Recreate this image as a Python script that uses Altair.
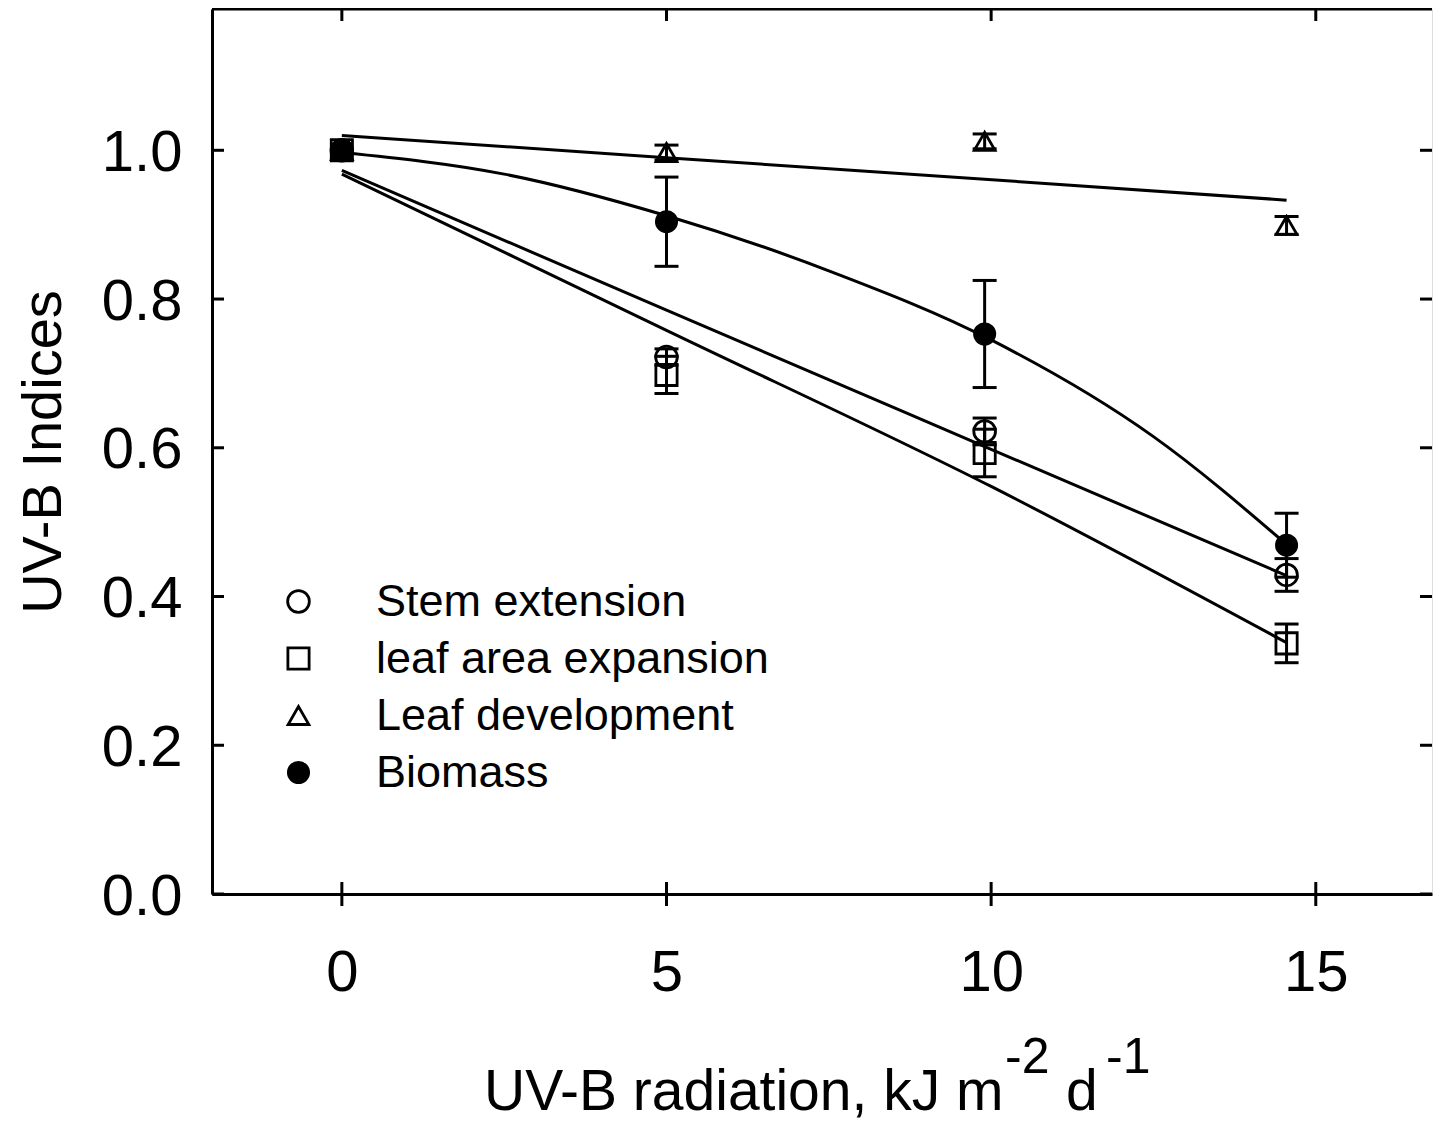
import altair as alt
import pandas as pd

FONT = "Liberation Sans"

# ---- data ----
series = ["Stem extension", "leaf area expansion", "Leaf development", "Biomass"]
doses = [0, 5, 9.9, 14.55]

stem_mean = [1.0, 0.722, 0.622, 0.429]
stem_err = [0.0, 0.011, 0.018, 0.022]
area_mean = [1.0, 0.698, 0.593, 0.337]
area_err = [0.0, 0.025, 0.032, 0.026]
dev_mean = [1.0, 0.997, 1.012, 0.899]
dev_err = [0.0, 0.010, 0.010, 0.012]
bio_mean = [1.0, 0.904, 0.753, 0.469]
bio_err = [0.0, 0.060, 0.072, 0.043]

# fitted curves
fit_stem_x = [0, 5, 10, 14.55]
fit_stem_y = [0.973, 0.785, 0.598, 0.428]
fit_area_x = [0, 5, 10, 14.55]
fit_area_y = [0.968, 0.758, 0.548, 0.338]
fit_dev_x = [0, 5, 9.9, 14.55]
fit_dev_y = [1.020, 0.990, 0.961, 0.933]
fit_bio_x = [0, 2.5, 5, 7.5, 10, 12.5, 14.55]
fit_bio_y = [0.997, 0.968, 0.912, 0.838, 0.745, 0.615, 0.470]

x_ticks = [0, 5, 10, 15]
y_ticks = [0.0, 0.2, 0.4, 0.6, 0.8, 1.0]
x_dom = [-2, 16.79]
y_dom = [0, 1.19]

y_title = "UV-B Indices"
x_title_parts = ["UV-B radiation, kJ m", "-2", "d", "-1"]

# ---- tables ----
means = [stem_mean, area_mean, dev_mean, bio_mean]
errs = [stem_err, area_err, dev_err, bio_err]
rows = []
for s, m, e in zip(series, means, errs):
    for d, mv, ev in zip(doses, m, e):
        rows.append({"series": s, "dose": d, "mean": mv, "lo": mv - ev, "hi": mv + ev, "err": ev})
pts = pd.DataFrame(rows)
errdf = pts[pts["err"] > 0]

fits = []
for s, fx, fy in zip(series,
                     [fit_stem_x, fit_area_x, fit_dev_x, fit_bio_x],
                     [fit_stem_y, fit_area_y, fit_dev_y, fit_bio_y]):
    for a, b in zip(fx, fy):
        fits.append({"series": s, "x": a, "y": b})
fitdf = pd.DataFrame(fits)

xt = pd.DataFrame({"v": x_ticks, "ymin": y_dom[0], "ymax": y_dom[1]})
yt = pd.DataFrame({"v": y_ticks, "xmin": x_dom[0], "xmax": x_dom[1]})
border = pd.DataFrame({"xmin": [x_dom[0]], "xmax": [x_dom[1]], "ymax": [y_dom[1]]})

# ---- styles ----
shapes = ["circle", "square", "triangle-up", "circle"]
fills = ["transparent", "transparent", "transparent", "black"]
strokes = ["black", "black", "black", "black"]
sizes = [470, 410, 640, 560]

xs = alt.Scale(domain=x_dom, nice=False, zero=False)
ys = alt.Scale(domain=y_dom, nice=False, zero=False)

x_axis = alt.Axis(values=x_ticks, format="d", labelFontSize=58, labelFont=FONT,
                  labelColor="black", labelPadding=50, ticks=False, tickSize=0,
                  domainColor="black", domainWidth=3, grid=False, title=None,
                  labelFlush=False)
y_axis = alt.Axis(values=y_ticks, format=".1f", labelFontSize=58, labelFont=FONT,
                  labelColor="black", labelPadding=30, labelOffset=3, ticks=False,
                  tickSize=0, domainColor="black", domainWidth=3, grid=False,
                  title=y_title, titleFontSize=56, titleFont=FONT,
                  titleFontWeight="normal", titleColor="black", titleX=-152,
                  titleBaseline="alphabetic")

leg = alt.Legend(title=None, orient="none", legendX=64, legendY=570,
                 labelFontSize=45, labelFont=FONT, labelColor="black",
                 labelOffset=55, rowPadding=11, padding=0, labelLimit=1000,
                 symbolStrokeColor="black", symbolStrokeWidth=2.8, symbolOpacity=1)


def X(field):
    return alt.X(field, scale=xs, axis=x_axis)


def Y(field):
    return alt.Y(field, scale=ys, axis=y_axis)


lines = alt.Chart(fitdf).mark_line(color="black", strokeWidth=3, interpolate="monotone").encode(
    x=X("x:Q"), y=Y("y:Q"), detail="series:N",
)

err_rules = alt.Chart(errdf).mark_rule(color="black", strokeWidth=3).encode(
    x=X("dose:Q"), y=Y("lo:Q"), y2="hi:Q",
)
cap_lo = alt.Chart(errdf).mark_tick(orient="horizontal", color="black", size=24,
                                    thickness=3, opacity=1).encode(x=X("dose:Q"), y=Y("lo:Q"))
cap_hi = alt.Chart(errdf).mark_tick(orient="horizontal", color="black", size=24,
                                    thickness=3, opacity=1).encode(x=X("dose:Q"), y=Y("hi:Q"))

points = alt.Chart(pts).mark_point(filled=False, strokeWidth=2.8, opacity=1).encode(
    x=X("dose:Q"),
    y=Y("mean:Q"),
    shape=alt.Shape("series:N", scale=alt.Scale(domain=series, range=shapes), legend=leg),
    fill=alt.Fill("series:N", scale=alt.Scale(domain=series, range=fills), legend=leg),
    stroke=alt.Stroke("series:N", scale=alt.Scale(domain=series, range=strokes), legend=leg),
    size=alt.Size("series:N", scale=alt.Scale(domain=series, range=sizes), legend=leg),
)

# frame ticks (inside; crossing at the bottom) and top border
bottom_ticks = alt.Chart(xt).mark_rule(color="black", strokeWidth=3, yOffset=-12, y2Offset=12).encode(
    x=X("v:Q"), y=Y("ymin:Q"), y2="ymin:Q")
top_ticks = alt.Chart(xt).mark_rule(color="black", strokeWidth=3, y2Offset=12).encode(
    x=X("v:Q"), y=Y("ymax:Q"), y2="ymax:Q")
left_ticks = alt.Chart(yt).mark_rule(color="black", strokeWidth=3, x2Offset=12).encode(
    y=Y("v:Q"), x=X("xmin:Q"), x2="xmin:Q")
right_ticks = alt.Chart(yt).mark_rule(color="black", strokeWidth=3, x2Offset=-12).encode(
    y=Y("v:Q"), x=X("xmax:Q"), x2="xmax:Q")
top_border = alt.Chart(border).mark_rule(color="black", strokeWidth=3).encode(
    y=Y("ymax:Q"), x=X("xmin:Q"), x2="xmax:Q")


# x-axis title with superscripts
def title_piece(txt, px, py, size):
    return alt.Chart(pd.DataFrame({"t": [txt]})).mark_text(
        align="left", baseline="alphabetic", font=FONT, fontSize=size, color="black"
    ).encode(text="t:N", x=alt.value(px), y=alt.value(py))


t1 = title_piece(x_title_parts[0], 272, 1101, 57)
t2 = title_piece(x_title_parts[1], 793, 1064, 50)
t3 = title_piece(x_title_parts[2], 854, 1101, 57)
t4 = title_piece(x_title_parts[3], 894, 1064, 50)

chart = alt.layer(
    lines, err_rules, cap_lo, cap_hi, points,
    bottom_ticks, top_ticks, left_ticks, right_ticks, top_border,
    t1, t2, t3, t4,
).properties(
    width=1220, height=885,
    autosize=alt.AutoSizeParams(type="none"),
    padding={"left": 204, "top": 1, "right": 1, "bottom": 229},
).configure_view(stroke=None).configure(font=FONT, background="white")

chart.save("out.html", embed_options={"renderer": "svg", "actions": False})
